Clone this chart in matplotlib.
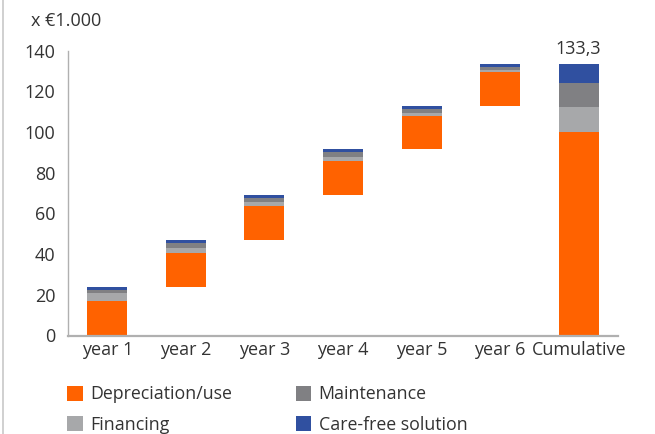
import matplotlib
matplotlib.use("Agg")
import matplotlib.pyplot as plt
import numpy as np
from matplotlib.lines import Line2D

plt.rcParams['font.family'] = ['Open Sans', 'DejaVu Sans']

categories = ["year 1", "year 2", "year 3", "year 4", "year 5", "year 6", "Cumulative"]
depreciation = [16.8, 16.7, 16.6, 16.7, 16.6, 16.8]
financing = [3.9, 2.3, 1.9, 1.7, 1.3, 0.9]
maintenance = [1.7, 2.4, 2.2, 2.3, 1.8, 1.5]
care_free = [1.6, 1.5, 1.6, 1.5, 1.5, 1.5]

series = [
    ("Depreciation/use", depreciation, "#FF6200"),
    ("Financing", financing, "#A7A8AA"),
    ("Maintenance", maintenance, "#808083"),
    ("Care-free solution", care_free, "#3050A0"),
]

yearly_total = np.sum([np.array(v) for _, v, _ in series], axis=0)
base = np.concatenate([[0.0], np.cumsum(yearly_total)[:-1]])
grand_total = float(np.sum(yearly_total))

fig = plt.figure(figsize=(6.55, 4.34), dpi=100)
ax = fig.add_axes([68 / 655, 1 - 335.5 / 434, 550 / 655, 285 / 434])

x = np.arange(len(categories))
width = 0.51
bottom = np.append(base, 0.0)
handles = []
for label, vals, color in series:
    heights = np.append(np.array(vals), np.sum(vals))
    bars = ax.bar(x, heights, width, bottom=bottom, color=color, label=label, linewidth=0)
    bottom = bottom + heights
    handles.append(bars)

ax.text(x[-1], bottom[-1] + 2.8, f"{grand_total:.1f}".replace(".", ","),
        ha="center", va="bottom", fontsize=13, color="#333333")

ax.set_ylim(0, 140)
ax.set_yticks(np.arange(0, 141, 20))
ax.set_xlim(-0.5, len(categories) - 0.5)
ax.set_xticks(x)
ax.set_xticklabels(categories)
ax.tick_params(axis="both", length=0, labelsize=13, colors="#333333")
ax.tick_params(axis="y", pad=9)
ax.tick_params(axis="x", pad=4)
for s in ("top", "right"):
    ax.spines[s].set_visible(False)
ax.spines["left"].set_color("#B0B0B0")
ax.spines["left"].set_linewidth(1.0)
ax.spines["bottom"].set_color("#B0B0B0")
ax.spines["bottom"].set_linewidth(1.6)

fig.text(31 / 655, 1 - 21 / 434, "x €1.000", fontsize=13, color="#333333", va="center", ha="left")

# thin frame line along the left edge
fig.add_artist(Line2D([3 / 655, 3 / 655], [0, 1], transform=fig.transFigure, color="#C8C8C8", linewidth=1.2))

leg = fig.legend(handles, [s[0] for s in series],
                 ncol=2, loc="upper left", bbox_to_anchor=(55 / 655, 1 - 373 / 434),
                 frameon=False, fontsize=12.8, handlelength=0.88, handleheight=0.88,
                 handletextpad=0.42, columnspacing=3.55, labelspacing=0.68, borderpad=0.2)
for t in leg.get_texts():
    t.set_color("#333333")

fig.savefig("out.png", dpi=100)
